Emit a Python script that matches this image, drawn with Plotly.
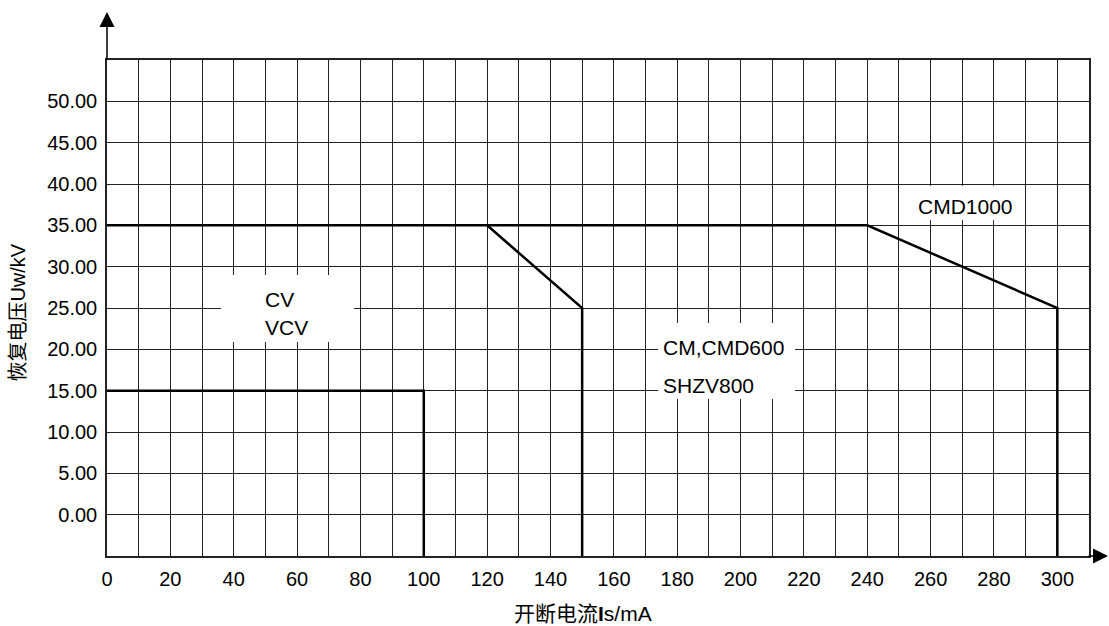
import plotly.graph_objects as go

# Data
cv_x = [0, 100, 100]
cv_y = [15, 15, -5]
cm_x = [0, 120, 150, 150]
cm_y = [35, 35, 25, -5]
cmd_x = [120, 240, 300, 300]
cmd_y = [35, 35, 25, -5]

x_ticks = list(range(0, 301, 20))
y_ticks = list(range(0, 51, 5))

FONT = "Liberation Sans, Arial, Noto Sans CJK SC"
FS = 20
LFS = 21

fig = go.Figure()
for xs, ys in [(cv_x, cv_y), (cm_x, cm_y), (cmd_x, cmd_y)]:
    fig.add_trace(go.Scatter(x=xs, y=ys, mode="lines",
                             line=dict(color="black", width=2.5),
                             showlegend=False, hoverinfo="skip"))

# white label boxes that mask the grid
boxes = [(36, 78, 20.9, 29.0), (174, 217.2, 14.0, 23.2), (252, 288, 35.6, 39.8)]
for x0, x1, y0, y1 in boxes:
    fig.add_shape(type="rect", x0=x0, x1=x1, y0=y0, y1=y1, xref="x", yref="y",
                  fillcolor="white", line=dict(width=0), layer="between")

labels = [("CV", 49.3, 26.0, "left"), ("VCV", 49.3, 22.7, "left"),
          ("CM,CMD600", 175.0, 20.2, "left"), ("SHZV800", 175.0, 15.6, "left"),
          ("CMD1000", 271.0, 37.3, "center")]
for t, x, y, anc in labels:
    fig.add_annotation(text=t, x=x, y=y, xref="x", yref="y", showarrow=False,
                       xanchor=anc, yanchor="middle", font=dict(size=LFS, color="black", family=FONT))

# axis arrows
fig.add_annotation(x=0, y=1.097, xref="paper", yref="paper", ax=0, ay=49, axref="pixel", ayref="pixel",
                   text="", showarrow=True, arrowhead=2, arrowsize=2, arrowwidth=1.5, arrowcolor="black")
fig.add_annotation(x=1.0214, y=0, xref="paper", yref="paper", ax=-23, ay=0, axref="pixel", ayref="pixel",
                   text="", showarrow=True, arrowhead=2, arrowsize=2, arrowwidth=1.5, arrowcolor="black")

# axis titles
fig.add_annotation(text="开断电流<b>I</b>s/mA", x=0.485, y=-0.115, xref="paper", yref="paper",
                   showarrow=False, xanchor="center", yanchor="middle",
                   font=dict(size=LFS, color="black", family=FONT))
fig.add_annotation(text="恢复电压Uw/kV", x=-0.091, y=0.49, xref="paper", yref="paper",
                   showarrow=False, textangle=-90, xanchor="center", yanchor="middle",
                   font=dict(size=FS, color="black", family=FONT))

fig.update_xaxes(range=[0, 310], tickvals=x_ticks, showgrid=True, gridcolor="#222", gridwidth=1,
                 minor=dict(dtick=10, tick0=0, showgrid=True, gridcolor="#222", gridwidth=1),
                 showline=True, linecolor="#222", linewidth=1.5, mirror=True, zeroline=False,
                 ticks="", tickfont=dict(size=FS, color="black", family=FONT), ticklabelstandoff=4)
fig.update_yaxes(range=[-5, 55], tickvals=y_ticks, tickformat=".2f", showgrid=True, gridcolor="#222", gridwidth=1,
                 showline=True, linecolor="#222", linewidth=1.5, mirror=True, zeroline=False,
                 ticks="", tickfont=dict(size=FS, color="black", family=FONT), ticklabelstandoff=4)

fig.update_layout(width=1109, height=626, margin=dict(l=107, r=20, t=60, b=70),
                  plot_bgcolor="white", paper_bgcolor="white")
fig.write_html("out.html", config={"displayModeBar": False},
               post_script="document.body.style.margin='0';document.body.style.overflow='hidden';")
